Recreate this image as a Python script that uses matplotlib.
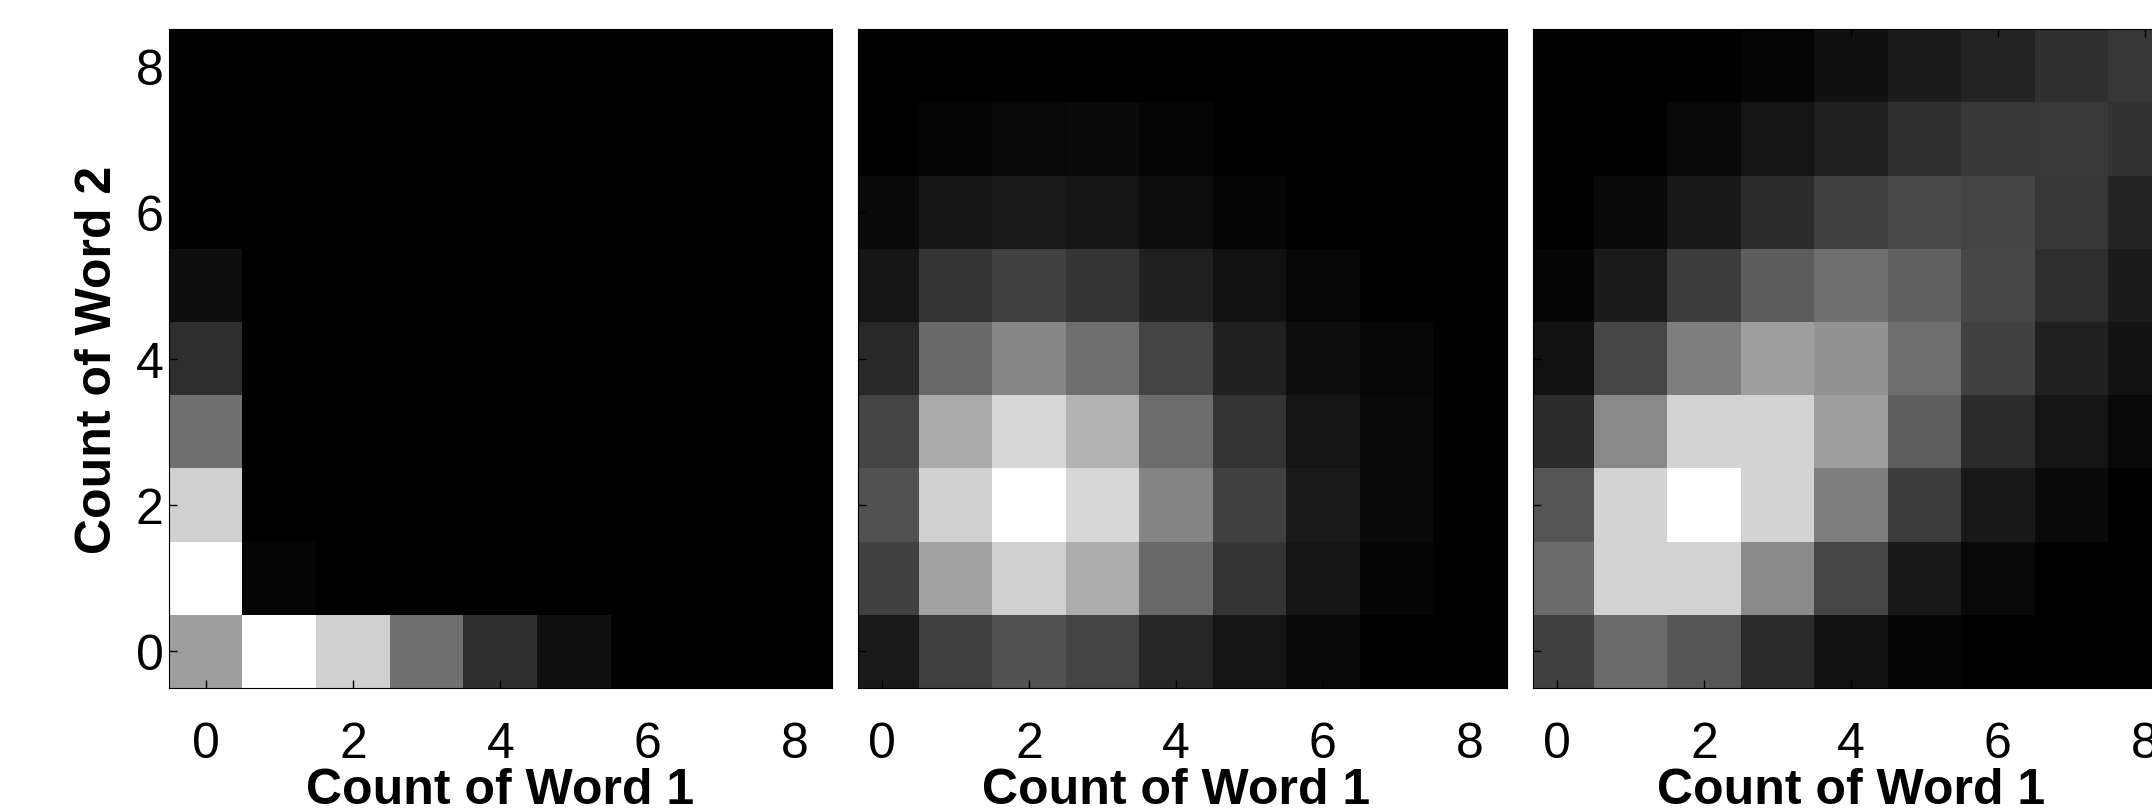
import numpy as np
import matplotlib
matplotlib.use("Agg")
import matplotlib.pyplot as plt

plt.rcParams['font.family'] = ['Liberation Sans', 'DejaVu Sans']

counts = [0, 1, 2, 3, 4, 5, 6, 7, 8]
tick_vals = [0, 2, 4, 6, 8]
xlabel_txt = "Count of Word 1"
ylabel_txt = "Count of Word 2"

# gray levels (0..255), rows are Word 2 count 0..8, columns Word 1 count 0..8
panel1 = [
    [158, 255, 208, 112, 46, 16, 0, 0, 0],
    [255, 5, 0, 0, 0, 0, 0, 0, 0],
    [208, 0, 0, 0, 0, 0, 0, 0, 0],
    [112, 0, 0, 0, 0, 0, 0, 0, 0],
    [46, 0, 0, 0, 0, 0, 0, 0, 0],
    [14, 0, 0, 0, 0, 0, 0, 0, 0],
    [0, 0, 0, 0, 0, 0, 0, 0, 0],
    [0, 0, 0, 0, 0, 0, 0, 0, 0],
    [0, 0, 0, 0, 0, 0, 0, 0, 0],
]
panel2 = [
    [25, 64, 82, 68, 38, 20, 9, 0, 0],
    [65, 162, 208, 172, 105, 52, 20, 5, 0],
    [82, 208, 255, 215, 133, 65, 25, 10, 0],
    [68, 170, 215, 180, 108, 52, 20, 10, 0],
    [40, 105, 135, 110, 68, 33, 13, 6, 0],
    [21, 52, 65, 53, 32, 17, 6, 0, 0],
    [10, 21, 25, 21, 13, 5, 0, 0, 0],
    [0, 4, 8, 10, 5, 0, 0, 0, 0],
    [0, 0, 0, 0, 0, 0, 0, 0, 0],
]
panel3 = [
    [66, 107, 86, 43, 17, 4, 0, 0, 0],
    [107, 211, 211, 138, 70, 24, 8, 0, 0],
    [85, 211, 255, 211, 126, 60, 24, 10, 0],
    [43, 137, 211, 211, 158, 94, 43, 21, 8],
    [17, 70, 126, 158, 146, 110, 66, 33, 18],
    [5, 26, 61, 93, 110, 97, 71, 46, 27],
    [0, 10, 24, 45, 64, 72, 68, 55, 36],
    [0, 0, 8, 20, 32, 48, 55, 56, 50],
    [0, 0, 0, 5, 16, 28, 35, 48, 55],
]

fig = plt.figure(figsize=(21.52, 8.12), dpi=100)

W, H = 2152.0, 812.0
bottom = (H - 689) / H
height = 659 / H
specs = [
    (panel1, 169, 663, -0.5),
    (panel2, 858, 648.5, -0.33),
    (panel3, 1533, 648.5, -0.33),
]

for i, (data, left, width, x0) in enumerate(specs):
    ax = fig.add_axes([left / W, bottom, width / W, height])
    ax.imshow(np.array(data), cmap='gray', vmin=0, vmax=255, origin='lower',
              interpolation='nearest', aspect='auto')
    ax.set_xlim(x0, 8.5)
    ax.set_ylim(-0.5, 8.5)
    ax.set_xticks(tick_vals)
    ax.set_yticks(tick_vals)
    ax.tick_params(direction='in', top=True, right=True, length=6, width=1,
                   labelsize=36)
    ax.tick_params(axis='x', pad=24)
    ax.tick_params(axis='y', pad=4)
    for s in ax.spines.values():
        s.set_linewidth(0.8)
    ax.set_xlabel(xlabel_txt, fontsize=36, fontweight='bold')
    xc = (4 - x0) / (8.5 - x0)
    ax.xaxis.set_label_coords(xc, -0.12)
    if i == 0:
        ax.set_ylabel(ylabel_txt, fontsize=36, fontweight='bold')
        ax.yaxis.set_label_coords(-0.072, 0.5)
    else:
        ax.set_yticklabels([])

fig.savefig("out.png", dpi=100)
